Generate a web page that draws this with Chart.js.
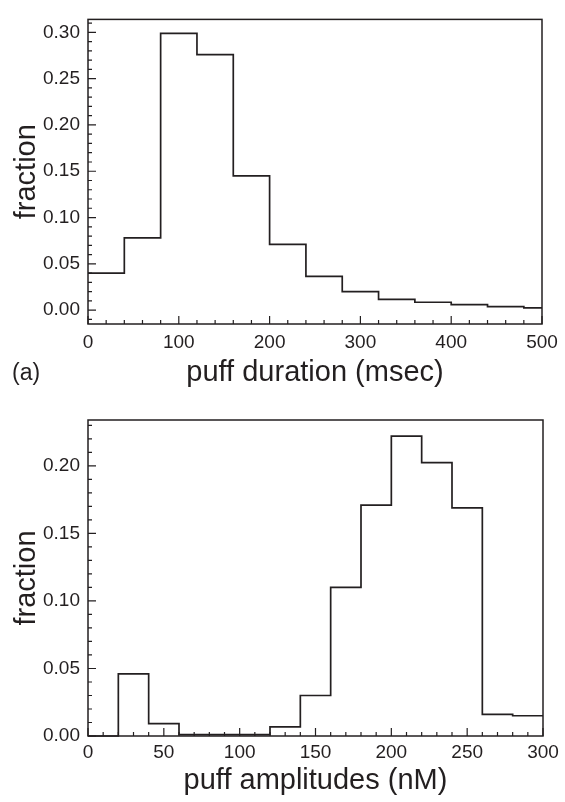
<!DOCTYPE html>
<html>
<head>
<meta charset="utf-8">
<script src="https://cdn.jsdelivr.net/npm/chart.js@4.4.1/dist/chart.umd.min.js"></script>
<style>
  body { margin: 0; background: #fff; }
  canvas { display: block; }
</style>
</head>
<body>
<canvas id="ctop" width="565" height="400"></canvas>
<canvas id="cbot" width="565" height="402"></canvas>
<script>
// (a) puff duration histogram, bin edges in msec
const durEdges = [0, 40, 80, 120, 160, 200, 240, 280, 320, 360, 400, 440, 480, 500];
const durFrac = [0.040, 0.078, 0.299, 0.276, 0.145, 0.071, 0.0365, 0.020, 0.0115, 0.0085, 0.006, 0.0037, 0.0025];
const durXTicks = [0, 100, 200, 300, 400, 500];
const durYTicks = [0, 0.05, 0.10, 0.15, 0.20, 0.25, 0.30];

// (b) puff amplitude histogram, bin edges in nM
const ampEdges = [0, 20, 40, 60, 80, 100, 120, 140, 160, 180, 200, 220, 240, 260, 280, 300];
const ampFrac = [0, 0.046, 0.0092, 0.001, 0.001, 0.001, 0.0067, 0.030, 0.110, 0.171, 0.222, 0.2025, 0.169, 0.016, 0.015];
const ampXTicks = [0, 50, 100, 150, 200, 250, 300];
const ampYTicks = [0, 0.05, 0.10, 0.15, 0.20];

const ink = '#231f20';
const fam = '"Liberation Sans", Arial, Helvetica, sans-serif';

function steps(edges, vals) {
    let pts = [];
    for (let i = 0; i < vals.length; i++) {
        pts.push({ x: edges[i], y: vals[i] });
    }
    pts.push({ x: edges[edges.length - 1], y: vals[vals.length - 1] });
    return pts;
}

function range(a, b, s) {
    let out = [];
    for (let v = a; v <= b + s / 1000; v += s) out.push(Math.round(v / s) * s);
    return out;
}

// frame + inward ticks + panel letter
const framePlugin = {
    id: 'frame',
    afterDraw(chart, args, o) {
        const ctx = chart.ctx;
        const a = chart.chartArea;
        const xs = chart.scales.x, ys = chart.scales.y;
        ctx.save();
        ctx.strokeStyle = ink;
        ctx.lineWidth = 1.5;
        ctx.strokeRect(a.left, a.top, a.right - a.left, a.bottom - a.top);
        ctx.lineWidth = 1.2;
        ctx.beginPath();
        o.xMinor.forEach(v => {
            const px = xs.getPixelForValue(v);
            const len = o.xMajor.includes(v) ? 8 : 4;
            ctx.moveTo(px, a.bottom);
            ctx.lineTo(px, a.bottom - len);
        });
        o.yMinor.forEach(v => {
            const py = ys.getPixelForValue(v);
            if (py < a.top || py > a.bottom) return;
            const len = o.yMajor.some(m => Math.abs(m - v) < 1e-6) ? 8 : 4;
            ctx.moveTo(a.left, py);
            ctx.lineTo(a.left + len, py);
        });
        ctx.stroke();
        ctx.fillStyle = ink;
        ctx.font = '23px ' + fam;
        ctx.textBaseline = 'alphabetic';
        ctx.fillText(o.letter, 12, o.letterY);
        ctx.restore();
    }
};

function makeChart(id, cfg) {
    new Chart(document.getElementById(id), {
        type: 'line',
        data: {
            datasets: [{
                data: steps(cfg.edges, cfg.vals),
                stepped: 'before',
                borderColor: ink,
                borderWidth: 1.7,
                pointRadius: 0,
                fill: false,
                clip: 2
            }]
        },
        options: {
            responsive: false,
            animation: false,
            layout: { padding: { left: 0, right: cfg.padRight, top: cfg.padTop, bottom: 0 } },
            plugins: {
                legend: { display: false },
                tooltip: { enabled: false },
                frame: cfg.frame
            },
            scales: {
                x: {
                    type: 'linear',
                    min: cfg.xMin,
                    max: cfg.xMax,
                    grid: { display: false, drawTicks: false },
                    border: { display: false },
                    afterBuildTicks: s => { s.ticks = cfg.xTicks.map(v => ({ value: v })); },
                    afterFit: s => { s.height = cfg.xHeight; },
                    ticks: {
                        color: ink,
                        padding: cfg.xTickPad,
                        maxRotation: 0,
                        font: { family: fam, size: 19 },
                        callback: v => String(v)
                    },
                    title: {
                        display: true,
                        text: cfg.xTitle,
                        color: ink,
                        font: { family: fam, size: 29, lineHeight: 1 },
                        padding: { top: 0, bottom: cfg.xTitlePad }
                    }
                },
                y: {
                    type: 'linear',
                    min: cfg.yMin,
                    max: cfg.yMax,
                    grid: { display: false, drawTicks: false },
                    border: { display: false },
                    afterBuildTicks: s => { s.ticks = cfg.yTicks.map(v => ({ value: v })); },
                    afterFit: s => { s.width = 88; },
                    ticks: {
                        color: ink,
                        padding: 8,
                        font: { family: fam, size: 19 },
                        callback: v => v.toFixed(2)
                    },
                    title: {
                        display: true,
                        text: 'fraction',
                        color: ink,
                        font: { family: fam, size: 29, lineHeight: 1 },
                        padding: { top: 12, bottom: 0 }
                    }
                }
            }
        },
        plugins: [framePlugin]
    });
}

makeChart('ctop', {
    edges: durEdges, vals: durFrac,
    xMin: 0, xMax: 500, yMin: -0.015, yMax: 0.314,
    xTicks: durXTicks, yTicks: durYTicks,
    padRight: 23, padTop: 9, xHeight: 76, xTickPad: 7, xTitlePad: 13,
    xTitle: 'puff duration (msec)',
    frame: { xMajor: durXTicks, xMinor: range(0, 500, 20), yMajor: durYTicks, yMinor: range(-0.01, 0.31, 0.01), letter: '(a)', letterY: 380 }
});

makeChart('cbot', {
    edges: ampEdges, vals: ampFrac,
    xMin: 0, xMax: 300, yMin: 0, yMax: 0.234,
    xTicks: ampXTicks, yTicks: ampYTicks,
    padRight: 22, padTop: 20, xHeight: 66, xTickPad: 5, xTitlePad: 7,
    xTitle: 'puff amplitudes (nM)',
    frame: { xMajor: ampXTicks, xMinor: range(0, 300, 10), yMajor: ampYTicks, yMinor: range(0, 0.23, 0.01), letter: '(b)', letterY: 790 }
});
</script>
</body>
</html>
